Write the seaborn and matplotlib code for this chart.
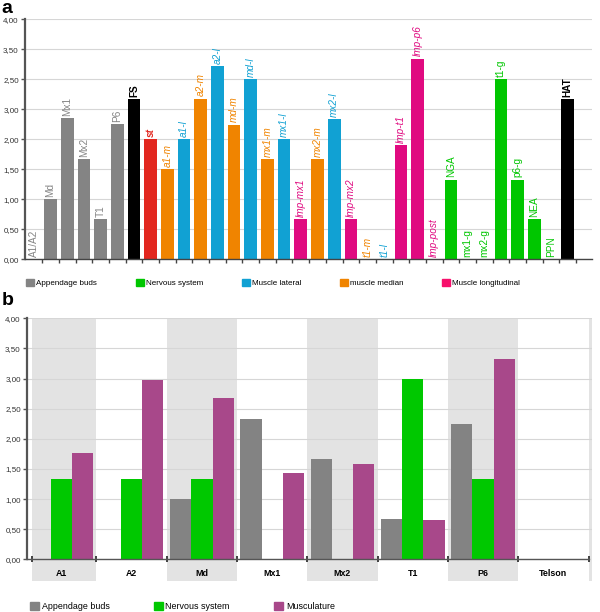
import numpy as np
import pandas as pd
import seaborn as sns
import matplotlib.pyplot as plt
from matplotlib.patches import Patch

# panel a: one bar per structure
labels_a = ['A1/A2', 'Md', 'Mx1', 'Mx2', 'T1', 'P6', 'FS', 'st',
            'a1-m', 'a1-l', 'a2-m', 'a2-l', 'md-m', 'md-l', 'mx1-m', 'mx1-l',
            'lmp-mx1', 'mx2-m', 'mx2-l', 'lmp-mx2', 't1-m', 't1-l', 'lmp-t1',
            'lmp-p6', 'lmp-post', 'NGA', 'mx1-g', 'mx2-g', 't1-g', 'p6-g',
            'NEA', 'PPN', 'HAT']
values_a = [0, 1.0, 2.35, 1.67, 0.67, 2.25, 2.67, 2.0,
            1.5, 2.0, 2.68, 3.22, 2.24, 3.0, 1.67, 2.0,
            0.67, 1.67, 2.34, 0.67, 0, 0, 1.9,
            3.34, 0, 1.33, 0, 0, 3.0, 1.33,
            0.67, 0, 2.67]
groups_a = ['buds'] * 6 + ['black', 'red'] + ['median', 'lateral'] * 4 + \
           ['longitudinal', 'median', 'lateral', 'longitudinal', 'median', 'lateral',
            'longitudinal', 'longitudinal', 'longitudinal'] + ['nervous'] * 7 + ['black']
ytick_labels_a = ['0,00', '0,50', '1,00', '1,50', '2,00', '3,00', '2,50', '3,50', '4,00']

legend_a = ['Appendage buds', 'Nervous system', 'Muscle lateral', 'muscle median', 'Muscle longitudinal']

# panel b: per segment
segments_b = ['A1', 'A2', 'Md', 'Mx1', 'Mx2', 'T1', 'P6', 'Telson']
buds_b = [0, 0, 1.0, 2.33, 1.67, 0.67, 2.25, 0]
nervous_b = [1.33, 1.33, 1.33, 0, 0, 3.0, 1.33, 0]
muscle_b = [1.76, 2.97, 2.67, 1.43, 1.59, 0.65, 3.33, 0]
systems_b = ['Appendage buds', 'Nervous system', 'Musculature']
yticks_b = ['0,00', '0,50', '1,00', '1,50', '2,00', '2,50', '3,00', '3,50', '4,00']

col = {'buds': '#848484', 'black': '#000000', 'red': '#e2271f', 'median': '#f08400',
       'lateral': '#11a1d3', 'longitudinal': '#e00a80', 'nervous': '#00c600'}
legend_cols_a = ['#848484', '#00c600', '#11a1d3', '#f08400', '#f7106c']
cols_b = ['#838383', '#00c800', '#a8488a']

plt.rcParams['font.family'] = ['Liberation Sans', 'DejaVu Sans']

fig = plt.figure(figsize=(6.0, 6.12), dpi=100)
axa = fig.add_axes([25 / 600, 1 - 259.3 / 612, (591.7 - 25) / 600, 240 / 612])
axb = fig.add_axes([27 / 600, 1 - 559.3 / 612, (591.7 - 27) / 600, 241 / 612])

# ---- panel a
bar_cols = [col[g] for g in groups_a]
sns.barplot(x=labels_a, y=values_a, hue=labels_a, palette=dict(zip(labels_a, bar_cols)),
            width=0.76, saturation=1, legend=False, ax=axa, zorder=2)
axa.set_xlim(-0.527, 33.43)
axa.set_ylim(0, 4)
axa.set_yticks(np.arange(0, 4.01, 0.5))
axa.set_yticklabels(ytick_labels_a)
axa.set_xticks(np.arange(33) + 0.5)
axa.set_xticklabels([])
axa.tick_params(axis='x', direction='out', length=3, width=1, color='#444444')
axa.tick_params(axis='y', direction='out', length=3, width=1, color='#555555',
                labelsize=5.8, pad=1.5, labelcolor='#333333')
axa.yaxis.grid(True, color='#d6d6d6', lw=0.8)
axa.set_axisbelow(True)
axa.set_xlabel('')
for s in ['top', 'right']:
    axa.spines[s].set_visible(False)
axa.spines['left'].set_color('#555555')
axa.spines['left'].set_linewidth(1.6)
axa.spines['bottom'].set_color('#444444')
axa.spines['bottom'].set_linewidth(1.0)

for i, (lab, v, g) in enumerate(zip(labels_a, values_a, groups_a)):
    style = 'normal'
    weight = 'normal'
    if g in ('median', 'lateral', 'longitudinal', 'red'):
        style = 'italic'
    if g in ('black', 'red'):
        weight = 'bold'
    axa.text(i, v + 0.04, lab, rotation=90, ha='center', va='bottom', fontsize=7.2,
             color=col[g], fontstyle=style, fontweight=weight)

axa.legend(handles=[Patch(color=c, label=l) for c, l in zip(legend_cols_a, legend_a)],
           ncol=5, loc='center left', bbox_to_anchor=(26 / 600, 1 - 283.3 / 612),
           bbox_transform=fig.transFigure, frameon=False, fontsize=5.8,
           handlelength=1.0, handleheight=1.0, handletextpad=0.3,
           columnspacing=4.75, borderpad=0, borderaxespad=0)

# ---- panel b
df_b = pd.DataFrame({'segment': segments_b, systems_b[0]: buds_b,
                     systems_b[1]: nervous_b, systems_b[2]: muscle_b})
df_b = df_b.melt(id_vars='segment', var_name='system', value_name='value')
sns.barplot(data=df_b, x='segment', y='value', hue='system', order=segments_b,
            hue_order=systems_b, palette=cols_b, width=0.906, saturation=1,
            errorbar=None, legend=False, ax=axb, zorder=2)
axb.set_xlim(-0.488, 7.545)
axb.set_ylim(0, 4)
axb.set_yticks(np.arange(0, 4.01, 0.5))
axb.set_yticklabels(yticks_b)
for i in [0, 2, 4, 6]:
    axb.axvspan(max(i - 0.5, -0.42), i + 0.5, ymin=-0.089, ymax=1, color='#e3e3e3',
                zorder=0, clip_on=False, lw=0)
axb.axvspan(7.5, 7.545, ymin=-0.089, ymax=1, color='#e3e3e3', zorder=0, clip_on=False, lw=0)
axb.yaxis.grid(True, color='#d6d6d6', lw=0.8, zorder=1)
axb.set_axisbelow(True)
axb.set_xticks(range(8))
axb.set_xticklabels(segments_b, fontweight='bold', fontsize=6.4)
axb.set_xticks([-0.42] + list(np.arange(8) + 0.5), minor=True)
axb.tick_params(axis='x', which='major', length=0, pad=6.8)
axb.tick_params(axis='x', which='minor', direction='inout', length=5, width=1.3, color='#333333')
axb.tick_params(axis='y', direction='out', length=3, width=1, color='#555555',
                labelsize=5.8, pad=1.5, labelcolor='#333333')
axb.set_xlabel('')
axb.set_ylabel('')
for s in ['top', 'right']:
    axb.spines[s].set_visible(False)
axb.spines['left'].set_color('#555555')
axb.spines['left'].set_linewidth(1.6)
axb.spines['bottom'].set_color('#555555')
axb.spines['bottom'].set_linewidth(1.0)
axb.spines['bottom'].set_bounds(-0.488, 7.5)

axb.legend(handles=[Patch(color=c, label=l) for c, l in zip(cols_b, systems_b)],
           ncol=3, loc='center left', bbox_to_anchor=(30 / 600, 1 - 606.5 / 612),
           bbox_transform=fig.transFigure, frameon=False, fontsize=6.4,
           handlelength=1.0, handleheight=1.0, handletextpad=0.3,
           columnspacing=5.0, borderpad=0, borderaxespad=0)

fig.text(1 / 600, 1 - 13 / 612, 'a', fontsize=14, fontweight='bold', va='baseline')
fig.text(2 / 600, 1 - 305 / 612, 'b', fontsize=14, fontweight='bold', va='baseline')

fig.savefig('out.png', dpi=100)
